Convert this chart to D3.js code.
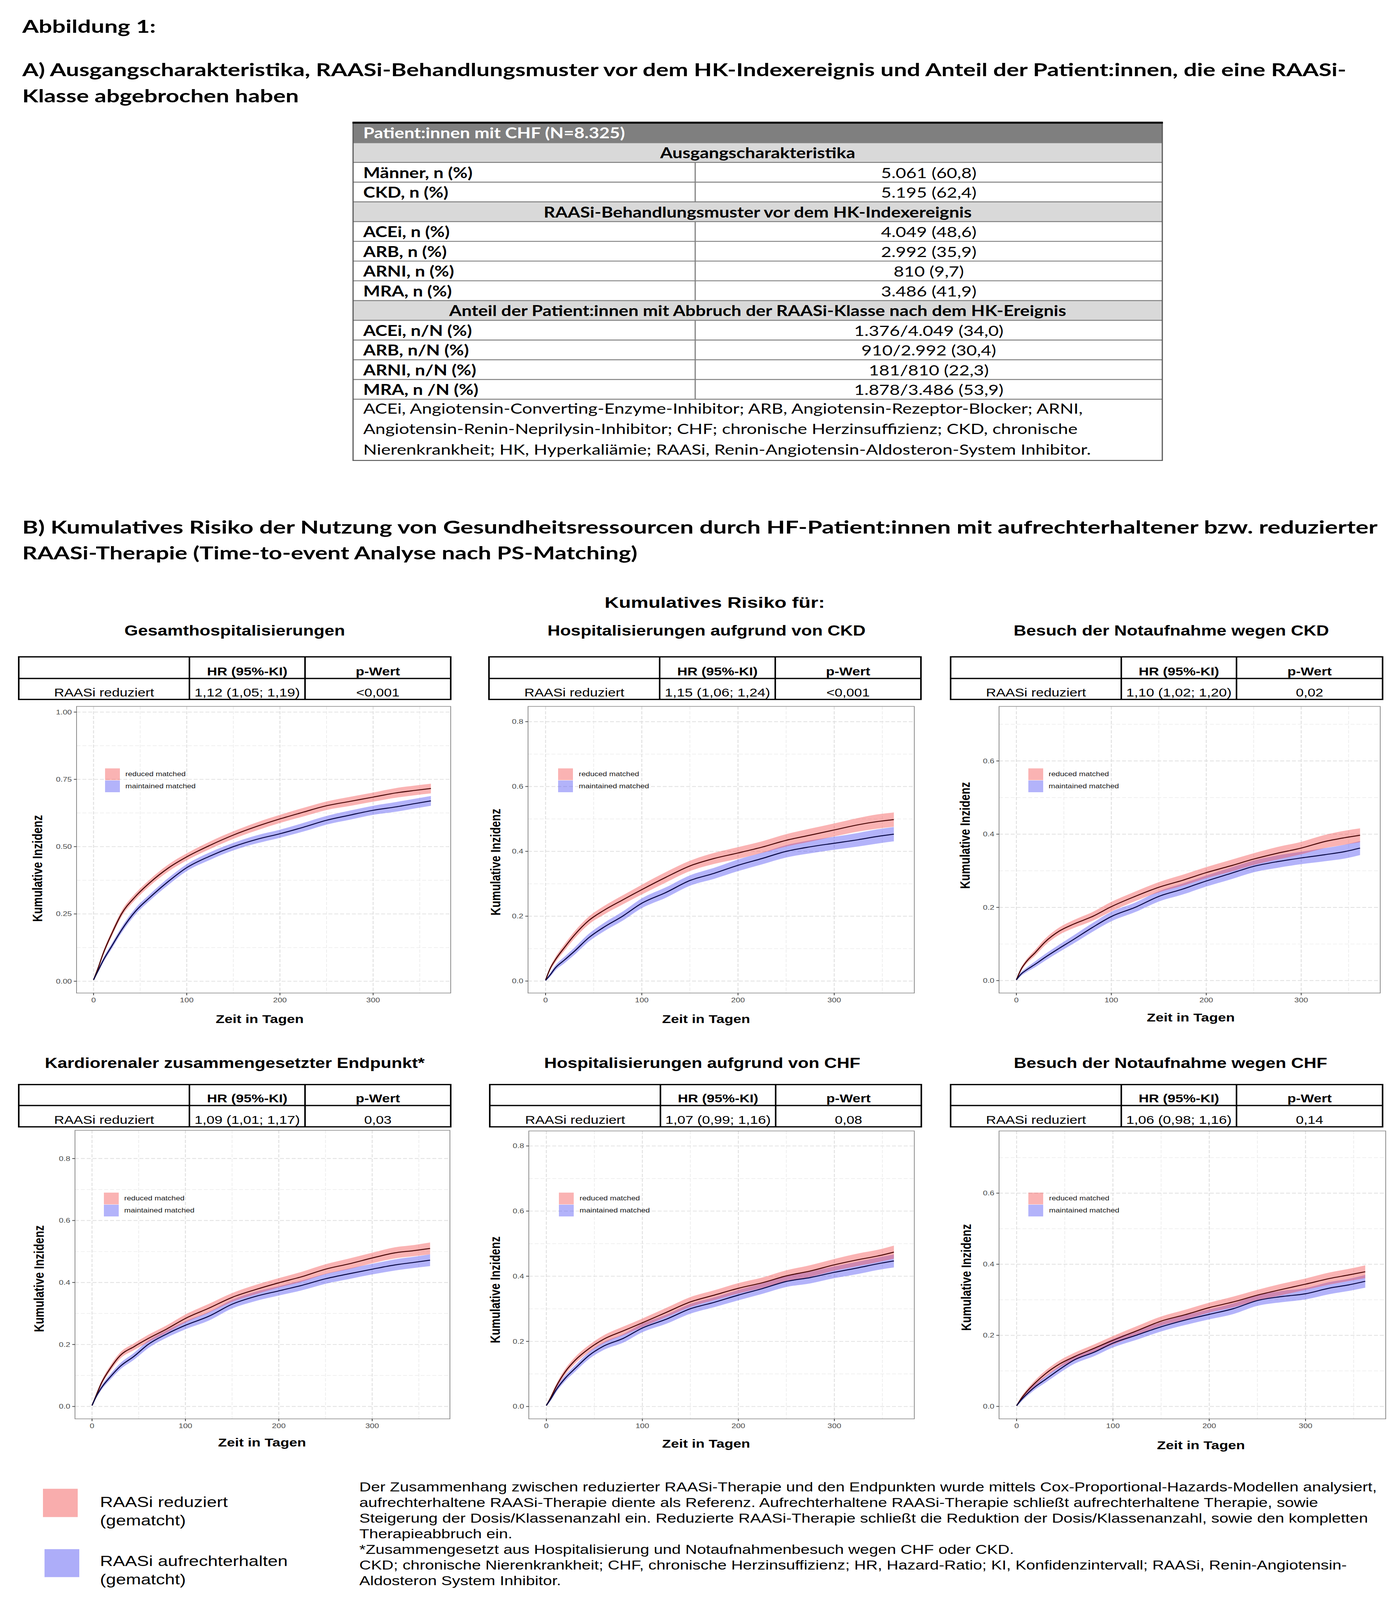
<!DOCTYPE html>
<html>
<head>
<meta charset="utf-8">
<script src="https://d3js.org/d3.v7.min.js"></script>
<style>
  html, body { margin: 0; padding: 0; background: #fff; overflow: hidden; }
  svg { display: block; width: 100vw; height: 100vh; }
</style>
</head>
<body>
<div id="chart"></div>
<script>
// ---------- data ----------

// table A
var tableTitle = "Patient:innen mit CHF (N=8.325)";
var sectionTitles = ["Ausgangscharakteristika",
  "RAASi-Behandlungsmuster vor dem HK-Indexereignis",
  "Anteil der Patient:innen mit Abbruch der RAASi-Klasse nach dem HK-Ereignis"];
var baseLabels = ["Männer, n (%)", "CKD, n (%)"];
var baseValues = ["5.061 (60,8)", "5.195 (62,4)"];
var patternLabels = ["ACEi, n (%)", "ARB, n (%)", "ARNI, n (%)", "MRA, n (%)"];
var patternValues = ["4.049 (48,6)", "2.992 (35,9)", "810 (9,7)", "3.486 (41,9)"];
var stopLabels = ["ACEi, n/N (%)", "ARB, n/N (%)", "ARNI, n/N (%)", "MRA, n /N (%)"];
var stopValues = ["1.376/4.049 (34,0)", "910/2.992 (30,4)", "181/810 (22,3)", "1.878/3.486 (53,9)"];
var tableNotes = [
  "ACEi, Angiotensin-Converting-Enzyme-Inhibitor; ARB, Angiotensin-Rezeptor-Blocker; ARNI,",
  "Angiotensin-Renin-Neprilysin-Inhibitor; CHF; chronische Herzinsuffizienz; CKD, chronische",
  "Nierenkrankheit; HK, Hyperkaliämie; RAASi, Renin-Angiotensin-Aldosteron-System Inhibitor."];

// panels B
var panelTitles = ["Gesamthospitalisierungen", "Hospitalisierungen aufgrund von CKD",
  "Besuch der Notaufnahme wegen CKD", "Kardiorenaler zusammengesetzter Endpunkt*",
  "Hospitalisierungen aufgrund von CHF", "Besuch der Notaufnahme wegen CHF"];
var hrValues = ["1,12 (1,05; 1,19)", "1,15 (1,06; 1,24)", "1,10 (1,02; 1,20)",
  "1,09 (1,01; 1,17)", "1,07 (0,99; 1,16)", "1,06 (0,98; 1,16)"];
var pValues = ["<0,001", "<0,001", "0,02", "0,03", "0,08", "0,14"];

var days = [0, 5, 10, 20, 30, 45, 60, 80, 100, 125, 150, 175, 200, 225, 250, 275, 300, 325, 345, 362];

var gesamtReduced    = [0.005, 0.05, 0.10, 0.18, 0.25, 0.315, 0.365, 0.42, 0.462, 0.505, 0.543, 0.575, 0.603, 0.628, 0.652, 0.668, 0.684, 0.700, 0.709, 0.716];
var gesamtMaintained = [0.005, 0.04, 0.075, 0.133, 0.19, 0.26, 0.31, 0.37, 0.422, 0.465, 0.50, 0.527, 0.548, 0.572, 0.598, 0.617, 0.635, 0.648, 0.660, 0.670];
var gesamtCi         = [0.002, 0.006, 0.008, 0.010, 0.011, 0.012, 0.012, 0.013, 0.013, 0.014, 0.014, 0.015, 0.015, 0.016, 0.016, 0.017, 0.017, 0.018, 0.018, 0.018];

var ckdHospReduced    = [0.003, 0.04, 0.065, 0.105, 0.142, 0.187, 0.217, 0.25, 0.282, 0.32, 0.355, 0.378, 0.395, 0.413, 0.434, 0.45, 0.466, 0.482, 0.492, 0.498];
var ckdHospMaintained = [0.002, 0.02, 0.04, 0.066, 0.092, 0.134, 0.165, 0.20, 0.240, 0.273, 0.31, 0.332, 0.357, 0.378, 0.40, 0.414, 0.425, 0.436, 0.446, 0.453];
var ckdHospCi         = [0.002, 0.006, 0.008, 0.010, 0.011, 0.012, 0.013, 0.014, 0.015, 0.016, 0.016, 0.017, 0.018, 0.018, 0.019, 0.020, 0.020, 0.021, 0.022, 0.022];

var ckdNotReduced    = [0.002, 0.031, 0.05, 0.077, 0.105, 0.135, 0.154, 0.175, 0.202, 0.23, 0.255, 0.274, 0.295, 0.313, 0.332, 0.348, 0.362, 0.38, 0.39, 0.397];
var ckdNotMaintained = [0.002, 0.018, 0.028, 0.045, 0.063, 0.088, 0.112, 0.145, 0.175, 0.20, 0.23, 0.25, 0.272, 0.292, 0.312, 0.325, 0.335, 0.344, 0.352, 0.362];
var ckdNotCi         = [0.002, 0.005, 0.006, 0.008, 0.009, 0.010, 0.011, 0.012, 0.013, 0.013, 0.014, 0.015, 0.015, 0.016, 0.016, 0.017, 0.017, 0.018, 0.019, 0.019];

var kardioReduced    = [0.003, 0.04, 0.075, 0.125, 0.164, 0.193, 0.219, 0.25, 0.284, 0.317, 0.352, 0.377, 0.399, 0.419, 0.443, 0.46, 0.479, 0.496, 0.503, 0.510];
var kardioMaintained = [0.003, 0.035, 0.06, 0.097, 0.129, 0.162, 0.20, 0.234, 0.262, 0.291, 0.33, 0.355, 0.373, 0.391, 0.412, 0.428, 0.443, 0.457, 0.465, 0.472];
var kardioCi         = [0.002, 0.005, 0.007, 0.009, 0.010, 0.011, 0.012, 0.012, 0.013, 0.014, 0.014, 0.015, 0.015, 0.016, 0.016, 0.017, 0.017, 0.018, 0.018, 0.019];

var chfHospReduced    = [0.003, 0.03, 0.06, 0.108, 0.142, 0.179, 0.207, 0.232, 0.257, 0.289, 0.321, 0.342, 0.363, 0.38, 0.401, 0.416, 0.435, 0.451, 0.462, 0.474];
var chfHospMaintained = [0.003, 0.025, 0.05, 0.088, 0.117, 0.158, 0.186, 0.209, 0.241, 0.268, 0.30, 0.32, 0.342, 0.362, 0.384, 0.396, 0.412, 0.426, 0.438, 0.447];
var chfHospCi         = [0.002, 0.005, 0.007, 0.009, 0.010, 0.011, 0.012, 0.013, 0.013, 0.014, 0.015, 0.015, 0.016, 0.016, 0.017, 0.018, 0.018, 0.019, 0.019, 0.020];

var chfNotReduced    = [0.002, 0.023, 0.04, 0.068, 0.092, 0.12, 0.14, 0.163, 0.186, 0.213, 0.24, 0.258, 0.278, 0.294, 0.313, 0.329, 0.344, 0.36, 0.37, 0.379];
var chfNotMaintained = [0.002, 0.019, 0.033, 0.057, 0.076, 0.105, 0.131, 0.152, 0.178, 0.201, 0.224, 0.243, 0.259, 0.275, 0.298, 0.309, 0.317, 0.333, 0.342, 0.352];
var chfNotCi         = [0.002, 0.005, 0.006, 0.008, 0.009, 0.010, 0.011, 0.011, 0.012, 0.013, 0.013, 0.014, 0.014, 0.015, 0.015, 0.016, 0.016, 0.017, 0.017, 0.018];

var xTicks = [0, 100, 200, 300];
var yTicksQuarter = [0, 0.25, 0.5, 0.75, 1.0];
var yTicks08 = [0, 0.2, 0.4, 0.6, 0.8];
var yTicks06 = [0, 0.2, 0.4, 0.6];

var legendLabels = ["reduced matched", "maintained matched"];
var bottomLegend = [["RAASi reduziert", "(gematcht)"], ["RAASi aufrechterhalten", "(gematcht)"]];
var footnotes = [
  "Der Zusammenhang zwischen reduzierter RAASi-Therapie und den Endpunkten wurde mittels Cox-Proportional-Hazards-Modellen analysiert,",
  "aufrechterhaltene RAASi-Therapie diente als Referenz. Aufrechterhaltene RAASi-Therapie schließt aufrechterhaltene Therapie, sowie",
  "Steigerung der Dosis/Klassenanzahl ein. Reduzierte RAASi-Therapie schließt die Reduktion der Dosis/Klassenanzahl, sowie den kompletten",
  "Therapieabbruch ein.",
  "*Zusammengesetzt aus Hospitalisierung und Notaufnahmenbesuch wegen CHF oder CKD.",
  "CKD; chronische Nierenkrankheit; CHF, chronische Herzinsuffizienz; HR, Hazard-Ratio; KI, Konfidenzintervall; RAASi, Renin-Angiotensin-",
  "Aldosteron System Inhibitor."];

// ---------- setup ----------
var W = 3559, H = 5035;
var calibri = "Lato, 'Open Sans', sans-serif";
var arial = "'Liberation Sans', Arial, sans-serif";
var redFill = "#f24a4a", blueFill = "#4a4af2";

// laid out in a 3559 x 5035 frame, stretched to whatever window we get
var svg = d3.select("#chart").append("svg")
    .attr("viewBox", "0 0 " + W + " " + H)
    .attr("preserveAspectRatio", "none");
svg.append("rect").attr("width", W).attr("height", H).attr("fill", "#fff");

function txt(g, s, x, y, size, opts) {
  opts = opts || {};
  var t = g.append("text")
      .attr("x", x).attr("y", y)
      .attr("font-family", opts.family || arial)
      .attr("font-size", size)
      .attr("font-weight", opts.bold ? "bold" : "normal")
      .attr("fill", opts.fill || "#000")
      .attr("text-anchor", opts.anchor || "start")
      .text(s);
  if (opts.width) t.attr("textLength", opts.width).attr("lengthAdjust", "spacingAndGlyphs");
  if (opts.rotate) t.attr("transform", "rotate(-90," + x + "," + y + ")");
  return t;
}

// ---------- headings ----------
txt(svg, "Abbildung 1:", 57, 103, 56, {family: calibri, bold: true, width: 342});
txt(svg, "A) Ausgangscharakteristika, RAASi-Behandlungsmuster vor dem HK-Indexereignis und Anteil der Patient:innen, die eine RAASi-",
    57, 240, 56, {family: calibri, bold: true, width: 3390});
txt(svg, "Klasse abgebrochen haben", 57, 322, 56, {family: calibri, bold: true, width: 708});

// ---------- table A ----------
var tX0 = 904, tX1 = 2976, tDiv = 1780, tTop = 386, hdrH = 63, rowH = 62.1;
var tFont = 46;
var tab = svg.append("g");
tab.append("rect").attr("x", tX0).attr("y", tTop).attr("width", tX1 - tX0).attr("height", hdrH).attr("fill", "#7f7f7f");
txt(tab, tableTitle, 930, tTop + hdrH - 14, tFont, {family: calibri, bold: true, fill: "#fff"});

var blocks = [
  {title: sectionTitles[0], labels: baseLabels, values: baseValues},
  {title: sectionTitles[1], labels: patternLabels, values: patternValues},
  {title: sectionTitles[2], labels: stopLabels, values: stopValues}
];
var yy = tTop + hdrH;
var hLines = [tTop + hdrH];
blocks.forEach(function(b) {
  tab.append("rect").attr("x", tX0).attr("y", yy).attr("width", tX1 - tX0).attr("height", rowH).attr("fill", "#d9d9d9");
  txt(tab, b.title, (tX0 + tX1) / 2, yy + rowH - 13, tFont, {family: calibri, bold: true, anchor: "middle"});
  yy += rowH; hLines.push(yy);
  b.labels.forEach(function(l, i) {
    txt(tab, l, 930, yy + rowH - 13, tFont, {family: calibri, bold: true});
    txt(tab, b.values[i], (tDiv + tX1) / 2, yy + rowH - 13, tFont, {family: calibri, anchor: "middle"});
    tab.append("line").attr("x1", tDiv).attr("x2", tDiv).attr("y1", yy).attr("y2", yy + rowH)
        .attr("stroke", "#808080").attr("stroke-width", 3);
    yy += rowH; hLines.push(yy);
  });
});
tableNotes.forEach(function(n, i) {
  txt(tab, n, 930, yy + 46 + i * 64, tFont, {family: calibri});
});
var tBottom = 1449;
hLines.forEach(function(y) {
  tab.append("line").attr("x1", tX0).attr("x2", tX1).attr("y1", y).attr("y2", y)
      .attr("stroke", "#808080").attr("stroke-width", 3);
});
tab.append("rect").attr("x", tX0).attr("y", tTop).attr("width", tX1 - tX0).attr("height", tBottom - tTop)
    .attr("fill", "none").attr("stroke", "#595959").attr("stroke-width", 3);
tab.append("line").attr("x1", tX0 - 1.5).attr("x2", tX1 + 1.5).attr("y1", tTop).attr("y2", tTop)
    .attr("stroke", "#000").attr("stroke-width", 6);

// ---------- section B heading ----------
txt(svg, "B) Kumulatives Risiko der Nutzung von Gesundheitsressourcen durch HF-Patient:innen mit aufrechterhaltener bzw. reduzierter",
    57, 1679, 56, {family: calibri, bold: true, width: 3470});
txt(svg, "RAASi-Therapie (Time-to-event Analyse nach PS-Matching)", 57, 1760, 56, {family: calibri, bold: true, width: 1575});
txt(svg, "Kumulatives Risiko für:", 1830, 1913, 48, {bold: true, anchor: "middle", width: 564});

// ---------- panels ----------
var panels = [
  {reduced: gesamtReduced, maintained: gesamtMaintained, ci: gesamtCi, yTicks: yTicksQuarter, fmt: ".2f",
   plot: [196, 1154, 2223, 3125], yDom: [-0.044, 1.021], tab: [48, 485, 781, 1154], tabY: [2067, 2135, 2201],
   title: [601, 2000], yLab: [96, 2733], xLab: [665, 3219], leg: [269, 2418, 321]},
  {reduced: ckdHospReduced, maintained: ckdHospMaintained, ci: ckdHospCi, yTicks: yTicks08, fmt: ".1f",
   plot: [1352, 2341, 2223, 3125], yDom: [-0.037, 0.847], tab: [1252, 1689, 1985, 2358], tabY: [2067, 2135, 2201],
   title: [1809, 2000], yLab: [1269, 2713], xLab: [1808, 3219], leg: [1429, 2418, 1482]},
  {reduced: ckdNotReduced, maintained: ckdNotMaintained, ci: ckdNotCi, yTicks: yTicks06, fmt: ".1f",
   plot: [2558, 3534, 2223, 3125], yDom: [-0.034, 0.749], tab: [2434, 2871, 3166, 3540], tabY: [2067, 2135, 2201],
   title: [2999, 2000], yLab: [2471, 2629], xLab: [3049, 3215], leg: [2633, 2418, 2685]},
  {reduced: kardioReduced, maintained: kardioMaintained, ci: kardioCi, yTicks: yTicks08, fmt: ".1f",
   plot: [192, 1152, 3557, 4465], yDom: [-0.040, 0.891], tab: [48, 485, 781, 1154], tabY: [3413, 3479, 3546],
   title: [601, 3361], yLab: [100, 4024], xLab: [671, 4552], leg: [266, 3753, 318]},
  {reduced: chfHospReduced, maintained: chfHospMaintained, ci: chfHospCi, yTicks: yTicks08, fmt: ".1f",
   plot: [1354, 2341, 3559, 4465], yDom: [-0.038, 0.846], tab: [1254, 1691, 1986, 2359], tabY: [3413, 3479, 3546],
   title: [1798, 3361], yLab: [1268, 4059], xLab: [1808, 4556], leg: [1431, 3753, 1484]},
  {reduced: chfNotReduced, maintained: chfNotMaintained, ci: chfNotCi, yTicks: yTicks06, fmt: ".1f",
   plot: [2558, 3548, 3559, 4465], yDom: [-0.035, 0.775], tab: [2434, 2871, 3166, 3540], tabY: [3413, 3479, 3546],
   title: [2997, 3361], yLab: [2474, 4020], xLab: [3075, 4561], leg: [2633, 3753, 2686]}
];

panels.forEach(function(p, pi) {
  var g = svg.append("g");
  var l = p.plot[0], r = p.plot[1], t = p.plot[2], b = p.plot[3];
  var x = d3.scaleLinear().domain([-18.25, 383.25]).range([l, r]);
  var y = d3.scaleLinear().domain(p.yDom).range([b, t]);

  // title
  txt(g, panelTitles[pi], p.title[0], p.title[1], 45, {bold: true, anchor: "middle"});

  // grid (looks dashed in the scanned figure)
  var step = p.yTicks[1] - p.yTicks[0];
  var yMinor = d3.range(step / 2, p.yDom[1], step);
  var xMinor = [50, 150, 250, 350];
  yMinor.forEach(function(v) {
    g.append("line").attr("x1", l).attr("x2", r).attr("y1", y(v)).attr("y2", y(v))
        .attr("stroke", "#ececec").attr("stroke-width", 1.8).attr("stroke-dasharray", "10,5");
  });
  xMinor.forEach(function(v) {
    g.append("line").attr("y1", t).attr("y2", b).attr("x1", x(v)).attr("x2", x(v))
        .attr("stroke", "#ececec").attr("stroke-width", 1.8).attr("stroke-dasharray", "10,5");
  });
  p.yTicks.forEach(function(v) {
    g.append("line").attr("x1", l).attr("x2", r).attr("y1", y(v)).attr("y2", y(v))
        .attr("stroke", "#e0e0e0").attr("stroke-width", 2.4).attr("stroke-dasharray", "10,5");
  });
  xTicks.forEach(function(v) {
    g.append("line").attr("y1", t).attr("y2", b).attr("x1", x(v)).attr("x2", x(v))
        .attr("stroke", "#e0e0e0").attr("stroke-width", 2.4).attr("stroke-dasharray", "10,5");
  });

  // bands and curves
  var pts = days.map(function(d, i) {
    return {day: d, r: p.reduced[i], m: p.maintained[i], c: p.ci[i]};
  });
  var clipId = "clip" + pi;
  g.append("clipPath").attr("id", clipId).append("rect")
      .attr("x", l).attr("y", t).attr("width", r - l).attr("height", b - t);
  var cg = g.append("g").attr("clip-path", "url(#" + clipId + ")");
  var area = function(key) {
    return d3.area().curve(d3.curveMonotoneX)
        .x(function(d) { return x(d.day); })
        .y0(function(d) { return y(Math.max(0, d[key] - d.c)); })
        .y1(function(d) { return y(d[key] + d.c); });
  };
  var line = function(key) {
    return d3.line().curve(d3.curveMonotoneX)
        .x(function(d) { return x(d.day); })
        .y(function(d) { return y(d[key]); });
  };
  cg.append("path").datum(pts).attr("d", area("m")).attr("fill", blueFill).attr("fill-opacity", 0.42);
  cg.append("path").datum(pts).attr("d", area("r")).attr("fill", redFill).attr("fill-opacity", 0.42);
  cg.append("path").datum(pts).attr("d", line("r")).attr("fill", "none").attr("stroke", "#4a0a0a").attr("stroke-width", 3);
  cg.append("path").datum(pts).attr("d", line("m")).attr("fill", "none").attr("stroke", "#0a0a45").attr("stroke-width", 3);

  // panel border
  g.append("rect").attr("x", l).attr("y", t).attr("width", r - l).attr("height", b - t)
      .attr("fill", "none").attr("stroke", "#8c8c8c").attr("stroke-width", 2);

  // axes ticks and labels
  var fmt = d3.format(p.fmt);
  p.yTicks.forEach(function(v) {
    g.append("line").attr("x1", l - 7).attr("x2", l).attr("y1", y(v)).attr("y2", y(v))
        .attr("stroke", "#333").attr("stroke-width", 2);
    txt(g, fmt(v), l - 12, y(v) + 7, 21, {anchor: "end", fill: "#4d4d4d"});
  });
  xTicks.forEach(function(v) {
    g.append("line").attr("y1", b).attr("y2", b + 7).attr("x1", x(v)).attr("x2", x(v))
        .attr("stroke", "#333").attr("stroke-width", 2);
    txt(g, String(v), x(v), b + 29, 21, {anchor: "middle", fill: "#4d4d4d"});
  });
  txt(g, "Zeit in Tagen", p.xLab[0], p.xLab[1], 37, {bold: true, anchor: "middle"});
  txt(g, "Kumulative Inzidenz", p.yLab[0] + 12, p.yLab[1], 35, {bold: true, anchor: "middle", rotate: true});

  // inner legend
  var lx = p.leg[0], ly = p.leg[1], tx = p.leg[2];
  g.append("rect").attr("x", lx).attr("y", ly).attr("width", 38).attr("height", 37)
      .attr("fill", redFill).attr("fill-opacity", 0.42);
  g.append("rect").attr("x", lx).attr("y", ly + 38).attr("width", 38).attr("height", 37)
      .attr("fill", blueFill).attr("fill-opacity", 0.42);
  txt(g, legendLabels[0], tx, ly + 24, 20, {fill: "#1a1a1a"});
  txt(g, legendLabels[1], tx, ly + 63, 20, {fill: "#1a1a1a"});

  // HR table
  var tx0 = p.tab[0], tx1 = p.tab[1], tx2 = p.tab[2], tx3 = p.tab[3];
  var ty0 = p.tabY[0], ty1 = p.tabY[1], ty2 = p.tabY[2];
  g.append("rect").attr("x", tx0).attr("y", ty0).attr("width", tx3 - tx0).attr("height", ty2 - ty0)
      .attr("fill", "#fff").attr("stroke", "#000").attr("stroke-width", 4);
  g.append("line").attr("x1", tx0).attr("x2", tx3).attr("y1", ty1).attr("y2", ty1).attr("stroke", "#000").attr("stroke-width", 4);
  [tx1, tx2].forEach(function(xv) {
    g.append("line").attr("x1", xv).attr("x2", xv).attr("y1", ty0).attr("y2", ty2).attr("stroke", "#000").attr("stroke-width", 4);
  });
  txt(g, "HR (95%-KI)", (tx1 + tx2) / 2, ty1 - 10, 36, {bold: true, anchor: "middle"});
  txt(g, "p-Wert", (tx2 + tx3) / 2, ty1 - 10, 36, {bold: true, anchor: "middle"});
  txt(g, "RAASi reduziert", (tx0 + tx1) / 2, ty2 - 9, 36, {anchor: "middle"});
  txt(g, hrValues[pi], (tx1 + tx2) / 2, ty2 - 9, 36, {anchor: "middle", width: 270});
  txt(g, pValues[pi], (tx2 + tx3) / 2, ty2 - 9, 36, {anchor: "middle"});
});

// ---------- bottom legend and footnotes ----------
svg.append("rect").attr("x", 110).attr("y", 4685).attr("width", 89).attr("height", 89)
    .attr("fill", redFill).attr("fill-opacity", 0.45);
svg.append("rect").attr("x", 114).attr("y", 4875).attr("width", 89).attr("height", 88)
    .attr("fill", blueFill).attr("fill-opacity", 0.45);
txt(svg, bottomLegend[0][0], 256, 4742, 46);
txt(svg, bottomLegend[0][1], 256, 4800, 46);
txt(svg, bottomLegend[1][0], 256, 4928, 46);
txt(svg, bottomLegend[1][1], 256, 4986, 46);

footnotes.forEach(function(f, i) {
  txt(svg, f, 920, 4693 + i * 49.3, 41.5);
});
</script>
</body>
</html>
